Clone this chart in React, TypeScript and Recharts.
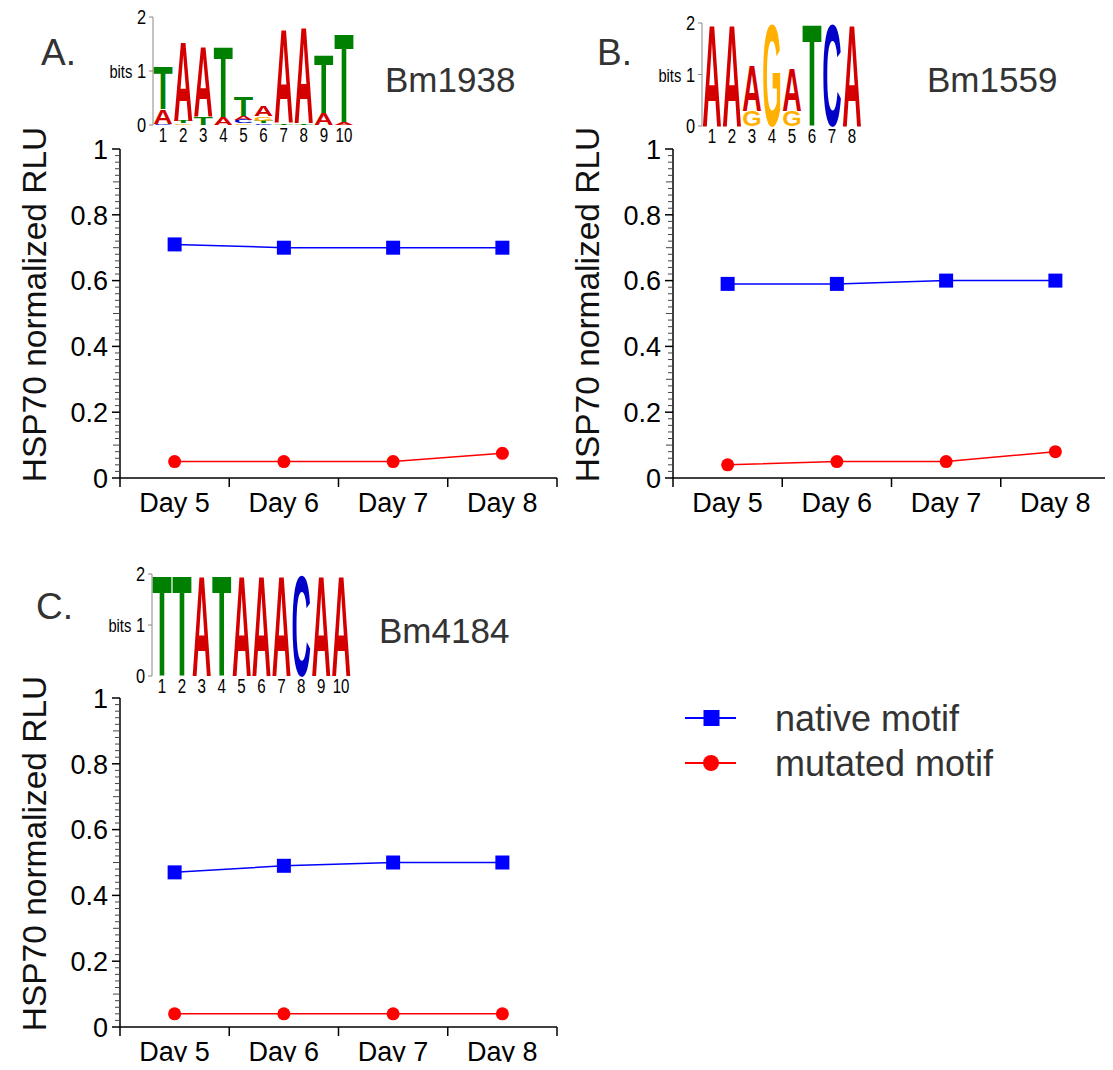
import React from "react";
import { LineChart, Line, XAxis, YAxis, BarChart, Bar, Legend } from "recharts";

const FONT = "Liberation Sans, Arial, sans-serif";

const days = ["Day 5", "Day 6", "Day 7", "Day 8"];

const nativeA = [0.71, 0.7, 0.7, 0.7];
const mutatedA = [0.05, 0.05, 0.05, 0.075];
const nativeB = [0.59, 0.59, 0.6, 0.6];
const mutatedB = [0.04, 0.05, 0.05, 0.08];
const nativeC = [0.47, 0.49, 0.5, 0.5];
const mutatedC = [0.04, 0.04, 0.04, 0.04];

const seriesNames = ["native motif", "mutated motif"];
const seriesColors = ["#0000ff", "#ff0000"];

// every 0.02 gets a tick mark, labels only on multiples of 0.2
const yTicks = Array.from({ length: 51 }, (_, i) => (i * 2) / 100);

const logoBits = [0, 1, 2];

// letter heights (bits) per motif position
const logoA_A = [0.27, 1.5, 1.33, 0.15, 0.07, 0.2, 1.77, 1.82, 0.23, 0.05];
const logoA_C = [0.02, 0, 0, 0, 0.06, 0.03, 0, 0, 0, 0];
const logoA_G = [0, 0.03, 0, 0, 0.03, 0.08, 0, 0, 0, 0];
const logoA_T = [0.82, 0.05, 0.15, 1.33, 0.36, 0.05, 0.03, 0.03, 1.1, 1.67];

const logoB_A = [2, 2, 0.9, 0, 0.85, 0, 0, 2];
const logoB_C = [0, 0, 0, 0, 0, 0, 2, 0];
const logoB_G = [0, 0, 0.3, 2, 0.3, 0, 0, 0];
const logoB_T = [0, 0, 0, 0, 0, 2, 0, 0];

const logoC_A = [0, 0, 2, 0, 2, 2, 2, 0, 2, 2];
const logoC_C = [0, 0, 0, 0, 0, 0, 0, 2, 0, 0];
const logoC_G = [0, 0, 0, 0, 0, 0, 0, 0, 0, 0];
const logoC_T = [2, 2, 0, 2, 0, 0, 0, 0, 0, 0];

const letterColor: Record<string, string> = {
  A: "#d40000",
  C: "#0000c8",
  G: "#ffb000",
  T: "#008000",
};

const PLOT_W = 437;
const AXIS = { stroke: "#000", strokeWidth: 1.5 };

function YTick(props: any) {
  const { x, y, payload } = props;
  const v = payload.value;
  const i = Math.round(v * 50);
  const axisX = Number(x) + 12;
  const major = i % 10 === 0;
  const len = major ? 8 : i % 5 === 0 ? 7 : 5;
  return (
    <g>
      <line x1={axisX - len} x2={axisX} y1={y} y2={y} stroke={major ? "#000" : "#444"} strokeWidth={major ? 1.5 : 1} />
      {major && (
        <text x={x} y={y} dy="0.36em" textAnchor="end" fontSize={27} fontFamily={FONT} fill="#000">
          {String(v)}
        </text>
      )}
    </g>
  );
}

function XTick(props: any) {
  const { x, y, payload, index } = props;
  const half = PLOT_W / days.length / 2;
  const axisY = y - 13;
  return (
    <g>
      <line x1={x - half} x2={x - half} y1={axisY} y2={axisY + 9} stroke="#000" strokeWidth={1.5} />
      {index === days.length - 1 && (
        <line x1={x + half} x2={x + half} y1={axisY} y2={axisY + 9} stroke="#000" strokeWidth={1.5} />
      )}
      <text x={x} y={y + 21} textAnchor="middle" fontSize={27} fontFamily={FONT} fill="#000">
        {payload.value}
      </text>
    </g>
  );
}

const SquareDot = (p: any) =>
  p.cx == null ? null : <rect key={p.index} x={p.cx - 7} y={p.cy - 7} width={14} height={14} fill="#0000ff" />;

function LegendBox() {
  return (
    <svg width={420} height={100}>
      {seriesNames.map((name, i) => {
        const cy = 19 + i * 45;
        return (
          <g key={name}>
            <line x1={5} x2={56} y1={cy} y2={cy} stroke={seriesColors[i]} strokeWidth={2} />
            {i === 0 ? (
              <rect x={23.5} y={cy - 8} width={16} height={16} fill={seriesColors[i]} />
            ) : (
              <circle cx={31} cy={cy} r={8} fill={seriesColors[i]} />
            )}
            <text x={95} y={cy} dy="0.36em" fontSize={36} fontFamily={FONT} fill="#333">
              {name}
            </text>
          </g>
        );
      })}
    </svg>
  );
}

function Panel({ left, top, width, native, mutated, legend }: any) {
  const data = days.map((d, i) => ({ day: d, native: native[i], mutated: mutated[i] }));
  const half = PLOT_W / days.length / 2;
  return (
    <div style={{ position: "absolute", left, top }}>
      <LineChart
        width={width}
        height={440}
        data={data}
        margin={{ top: 49, right: width - 120 - PLOT_W, bottom: 2, left: 40 }}
      >
        <XAxis
          dataKey="day"
          scale="point"
          padding={{ left: half, right: half }}
          height={60}
          tickSize={9}
          tickMargin={4}
          tickLine={false}
          interval={0}
          axisLine={AXIS}
          tick={<XTick />}
        />
        <XAxis xAxisId="top" dataKey="day" orientation="top" height={0} tick={false} tickLine={false} axisLine={AXIS} />
        <YAxis
          domain={[0, 1]}
          ticks={yTicks}
          interval={0}
          width={80}
          tickSize={8}
          tickMargin={4}
          tickLine={false}
          axisLine={AXIS}
          tick={<YTick />}
          label={{
            value: "HSP70 normalized RLU",
            angle: -90,
            position: "insideLeft",
            offset: -6,
            dy: -9,
            style: { textAnchor: "middle", fontSize: 33.5, fontFamily: FONT, fill: "#111" },
          }}
        />
        <YAxis yAxisId="right" orientation="right" domain={[0, 1]} width={0} tick={false} tickLine={false} axisLine={AXIS} />
        <Line
          dataKey="native"
          name={seriesNames[0]}
          stroke={seriesColors[0]}
          strokeWidth={1.5}
          dot={SquareDot}
          isAnimationActive={false}
        />
        <Line
          dataKey="mutated"
          name={seriesNames[1]}
          stroke={seriesColors[1]}
          strokeWidth={1.5}
          dot={{ r: 6.5, fill: seriesColors[1], stroke: seriesColors[1], strokeWidth: 0 }}
          isAnimationActive={false}
        />
        {legend && (
          <Legend
            layout="horizontal"
            verticalAlign="middle"
            align="center"
            wrapperStyle={{ left: 680, top: 50, width: 420 }}
            content={<LegendBox />}
          />
        )}
      </LineChart>
    </div>
  );
}

function buildLogoRows(A: number[], C: number[], G: number[], T: number[]) {
  return A.map((_, i) => {
    const items: [string, number][] = [
      ["A", A[i]],
      ["C", C[i]],
      ["G", G[i]],
      ["T", T[i]],
    ];
    items.sort((a, b) => a[1] - b[1]);
    const row: any = { pos: String(i + 1) };
    items.forEach(([l, h], k) => {
      row[`s${k}`] = h;
      row[`l${k}`] = l;
    });
    return row;
  });
}

const letterShape = (k: number, rows: any[]) => (p: any) => {
  const { x, y, width, height, index } = p;
  if (!height || height < 0.4) return <g />;
  const row = p.payload && p.payload[`l${k}`] ? p.payload : rows[index];
  const l = row[`l${k}`];
  return (
    <text
      transform={`translate(${x - width * 0.04},${y + height}) scale(1,${height / 71.6})`}
      x={0}
      y={0}
      textLength={width * 1.08}
      lengthAdjust="spacingAndGlyphs"
      fontSize={100}
      fontWeight="bold"
      fontFamily={FONT}
      fill={letterColor[l]}
    >
      {l}
    </text>
  );
};

// condensed tick labels of the logo axes
function LogoXTick(props: any) {
  const { x, y, payload } = props;
  return (
    <text transform={`translate(${x},${y + 16}) scale(0.72,1)`} textAnchor="middle" fontSize={21} fontFamily={FONT} fill="#000">
      {payload.value}
    </text>
  );
}

function LogoYTick(props: any) {
  const { x, y, payload } = props;
  const v = payload.value;
  return (
    <text transform={`translate(${x},${y}) scale(0.82,1)`} dy="0.36em" textAnchor="end" fontSize={20} fontFamily={FONT} fill="#000">
      {v === 1 ? (
        <>
          <tspan fontSize={18}>bits</tspan> 1
        </>
      ) : (
        String(v)
      )}
    </text>
  );
}

function Logo({ axisX, topY, colW, bitPx, rows }: any) {
  const n = rows.length;
  const mTop = 30;
  const width = 60 + n * colW + 20;
  const height = mTop + 2 * bitPx + 24;
  return (
    <div style={{ position: "absolute", left: axisX - 60, top: topY - mTop }}>
      <BarChart
        width={width}
        height={height}
        data={rows}
        margin={{ top: mTop, right: 20, bottom: 0, left: 0 }}
        barCategoryGap={1}
        style={{ overflow: "visible" }}
      >
        <XAxis
          dataKey="pos"
          height={24}
          axisLine={false}
          tickLine={false}
          tickSize={0}
          tickMargin={1}
          interval={0}
          tick={<LogoXTick />}
        />
        <YAxis
          domain={[0, 2]}
          ticks={logoBits}
          width={60}
          stroke="#888"
          tickSize={4}
          tickMargin={3}
          tick={<LogoYTick />}
        />
        {[0, 1, 2, 3].map((k) => (
          <Bar key={k} dataKey={`s${k}`} stackId="a" isAnimationActive={false} shape={letterShape(k, rows)} />
        ))}
      </BarChart>
    </div>
  );
}

const rowsA = buildLogoRows(logoA_A, logoA_C, logoA_G, logoA_T);
const rowsB = buildLogoRows(logoB_A, logoB_C, logoB_G, logoB_T);
const rowsC = buildLogoRows(logoC_A, logoC_C, logoC_G, logoC_T);

export default function App() {
  return (
    <div style={{ position: "relative", width: 1113, height: 1070, margin: -8, background: "#fff", fontFamily: FONT, overflow: "hidden" }}>
      <svg width={1113} height={1070} style={{ position: "absolute", left: 0, top: 0 }}>
        <g fontFamily={FONT} fill="#333">
          <text x={41} y={65} fontSize={37}>A.</text>
          <text x={385} y={92} fontSize={35}>Bm1938</text>
          <text x={597} y={65} fontSize={37}>B.</text>
          <text x={927} y={92} fontSize={35}>Bm1559</text>
          <text x={36} y={619} fontSize={37}>C.</text>
          <text x={379} y={643} fontSize={35}>Bm4184</text>
        </g>
      </svg>
      <Panel left={0} top={100} width={580} native={nativeA} mutated={mutatedA} />
      <Panel left={553} top={100} width={580} native={nativeB} mutated={mutatedB} />
      <Panel left={0} top={649} width={1113} native={nativeC} mutated={mutatedC} legend />
      <Logo axisX={152.5} topY={17} colW={20.1} bitPx={54} rows={rowsA} />
      <Logo axisX={702} topY={23} colW={20} bitPx={51.5} rows={rowsB} />
      <Logo axisX={152} topY={573.5} colW={19.9} bitPx={51} rows={rowsC} />
    </div>
  );
}
